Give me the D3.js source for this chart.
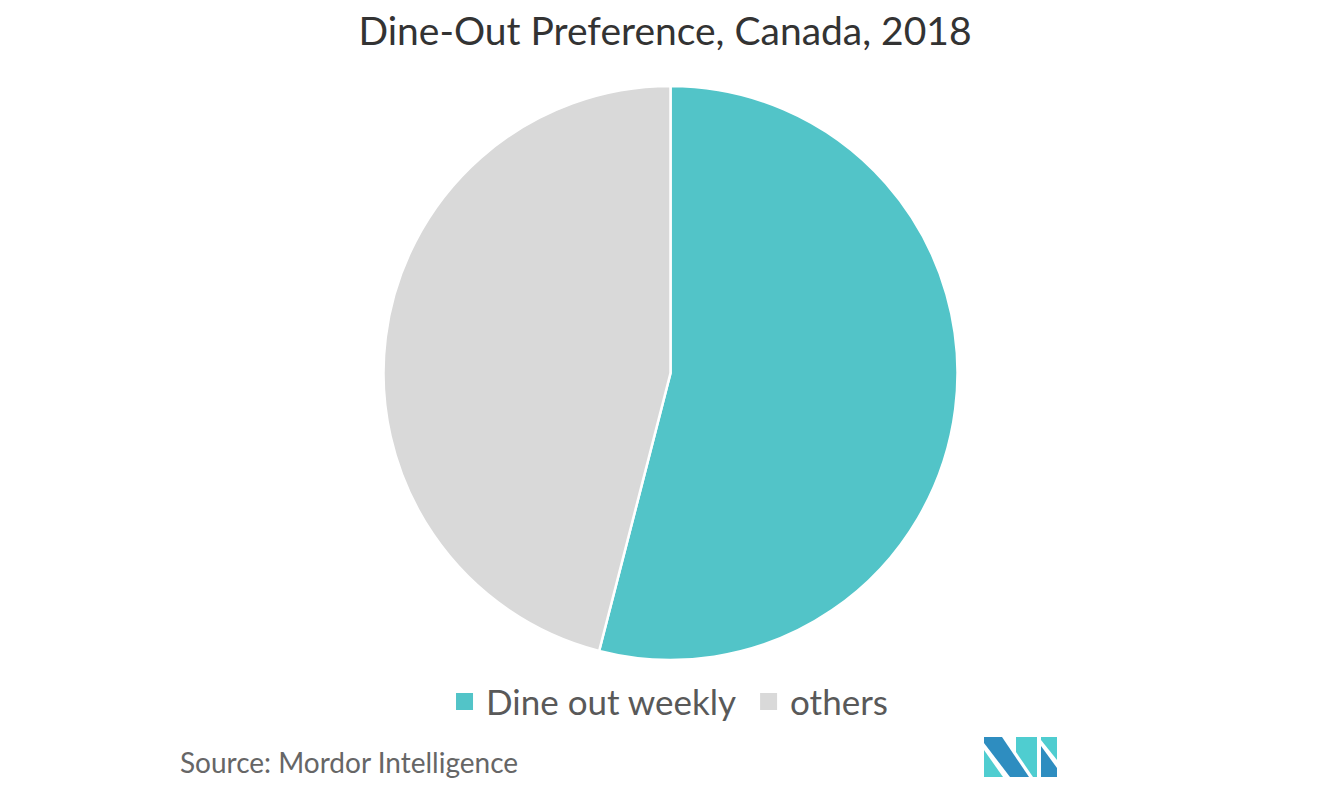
<!DOCTYPE html>
<html>
<head>
<meta charset="utf-8">
<script src="https://cdn.jsdelivr.net/npm/d3@7"></script>
<style>
  body { margin: 0; background: #fff; }
  text { font-family: Lato, "Open Sans", sans-serif; }
</style>
</head>
<body>
<script>
"use strict"
const w = 1321;
const h = 800;

// data
const categories = ['Dine out weekly', 'others'];
const values = [54, 46];
const colors = ['#52c4c8', '#d9d9d9'];
const titleText = 'Dine-Out Preference, Canada, 2018';
const sourceText = 'Source: Mordor Intelligence';

const mySvg = d3.select('body')
	.append('svg')
	.attr('width', w)
	.attr('height', h);

// title
mySvg.append('text')
	.attr('x', 665)
	.attr('y', 45)
	.attr('text-anchor', 'middle')
	.style('font-size', '39px')
	.style('fill', '#333')
	.text(titleText);

// pie
const cx = 670.5, cy = 373, r = 287;
const pie = d3.pie().sort(null).value(d => d);
const arc = d3.arc().innerRadius(0).outerRadius(r);

const g = mySvg.append('g')
	.attr('transform', 'translate(' + cx + ',' + cy + ')');

g.selectAll('path')
	.data(pie(values))
	.enter()
	.append('path')
	.attr('d', arc)
	.attr('fill', (d, i) => colors[i])
	.attr('stroke', '#fff')
	.attr('stroke-width', 2.5);

// legend
const legend = mySvg.append('g');
const items = legend.selectAll('g')
	.data(categories)
	.enter()
	.append('g');

items.append('rect')
	.attr('width', 17)
	.attr('height', 17)
	.attr('y', 693)
	.attr('fill', (d, i) => colors[i]);

items.append('text')
	.attr('x', 30)
	.attr('y', 715)
	.style('font-size', '35px')
	.style('fill', '#595959')
	.text(d => d);

// place legend items side by side, centred
let xPos = 0;
const offsets = [];
items.each(function() {
	offsets.push(xPos);
	const tw = d3.select(this).select('text').node().getComputedTextLength();
	xPos += 30 + tw + 24;
});
const total = xPos - 24;
const startX = 672 - total / 2;
items.attr('transform', (d, i) => 'translate(' + (startX + offsets[i]) + ',0)');

// source
mySvg.append('text')
	.attr('x', 180)
	.attr('y', 773)
	.style('font-size', '28px')
	.style('fill', '#666')
	.text(sourceText);

// logo
const logo = [
	{ pts: [[984, 750], [984, 777], [1003, 777]], c: '#4fcdd0' },
	{ pts: [[984, 737], [1002, 737], [1029, 777], [1010, 777], [984, 743]], c: '#2e8dc0' },
	{ pts: [[1016, 737], [1037, 737], [1037, 777], [1033, 777], [1016, 752]], c: '#4fcdd0' },
	{ pts: [[1041, 737], [1057, 737], [1057, 760], [1041, 740]], c: '#4fcdd0' },
	{ pts: [[1041, 746], [1057, 768], [1057, 777], [1041, 777]], c: '#2e8dc0' }
];
mySvg.append('g')
	.selectAll('polygon')
	.data(logo)
	.enter()
	.append('polygon')
	.attr('points', d => d.pts.map(p => p.join(',')).join(' '))
	.attr('fill', d => d.c);
</script>
</body>
</html>
